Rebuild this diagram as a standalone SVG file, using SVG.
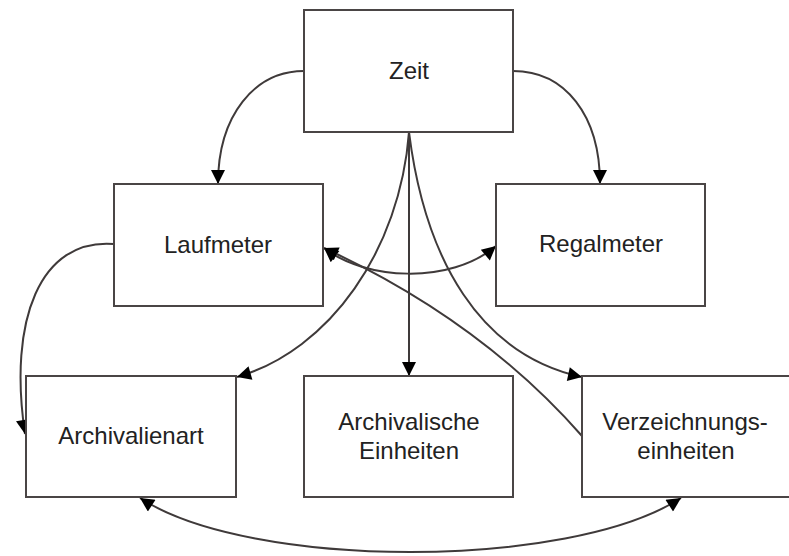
<svg xmlns="http://www.w3.org/2000/svg" width="789" height="556" viewBox="0 0 789 556">
<style>
.box{fill:#fff;stroke:#4a4545;stroke-width:2}
.lbl{font-family:"Liberation Sans",Arial,sans-serif;font-size:24px;fill:#222;text-anchor:middle}
.edge{fill:none;stroke:#3f3a3a;stroke-width:2}
</style>
<defs>
<marker id="ah" viewBox="0 0 10 10" refX="10" refY="5" markerWidth="16" markerHeight="14" markerUnits="userSpaceOnUse" orient="auto-start-reverse">
<path d="M0,0 L10,5 L0,10 z" fill="#000"/>
</marker>
</defs>
<rect width="789" height="556" fill="#fff"/>
<g id="edges">
<path class="edge" d="M304,71 C255,71 218,115 218,184" marker-end="url(#ah)"/>
<path class="edge" d="M513,71 C565,71 600,115 600,184" marker-end="url(#ah)"/>
<path class="edge" d="M409,132 L409,376" marker-end="url(#ah)"/>
<path class="edge" d="M409,132 C400,250 330,350 237,377" marker-end="url(#ah)"/>
<path class="edge" d="M409,132 C425,260 480,355 582,377" marker-end="url(#ah)"/>
<path class="edge" d="M324,248 C365,280 450,285 496,246" marker-start="url(#ah)" marker-end="url(#ah)"/>
<path class="edge" d="M582,436 Q480,320 324,248" marker-end="url(#ah)"/>
<path class="edge" d="M114,244 C40,238 8,320 25,434" marker-end="url(#ah)"/>
<path class="edge" d="M140,498 C250,570 570,570 681,498" marker-start="url(#ah)" marker-end="url(#ah)"/>
</g>
<g id="zeit"><rect class="box" x="304" y="10" width="209" height="122"/><text class="lbl" x="409" y="79">Zeit</text></g>
<g id="laufmeter"><rect class="box" x="114" y="184" width="209" height="122"/><text class="lbl" x="218" y="253">Laufmeter</text></g>
<g id="regalmeter"><rect class="box" x="496" y="184" width="209" height="122"/><text class="lbl" x="601" y="252">Regalmeter</text></g>
<g id="archivalienart"><rect class="box" x="26" y="376" width="210" height="121"/><text class="lbl" x="131" y="444">Archivalienart</text></g>
<g id="archivalische"><rect class="box" x="304" y="376" width="209" height="121"/><text class="lbl" x="409" y="430">Archivalische</text><text class="lbl" x="409" y="459">Einheiten</text></g>
<g id="verzeichnung"><rect class="box" x="582" y="376" width="210" height="121"/><text class="lbl" x="685" y="430">Verzeichnungs-</text><text class="lbl" x="686" y="459">einheiten</text></g>
</svg>
